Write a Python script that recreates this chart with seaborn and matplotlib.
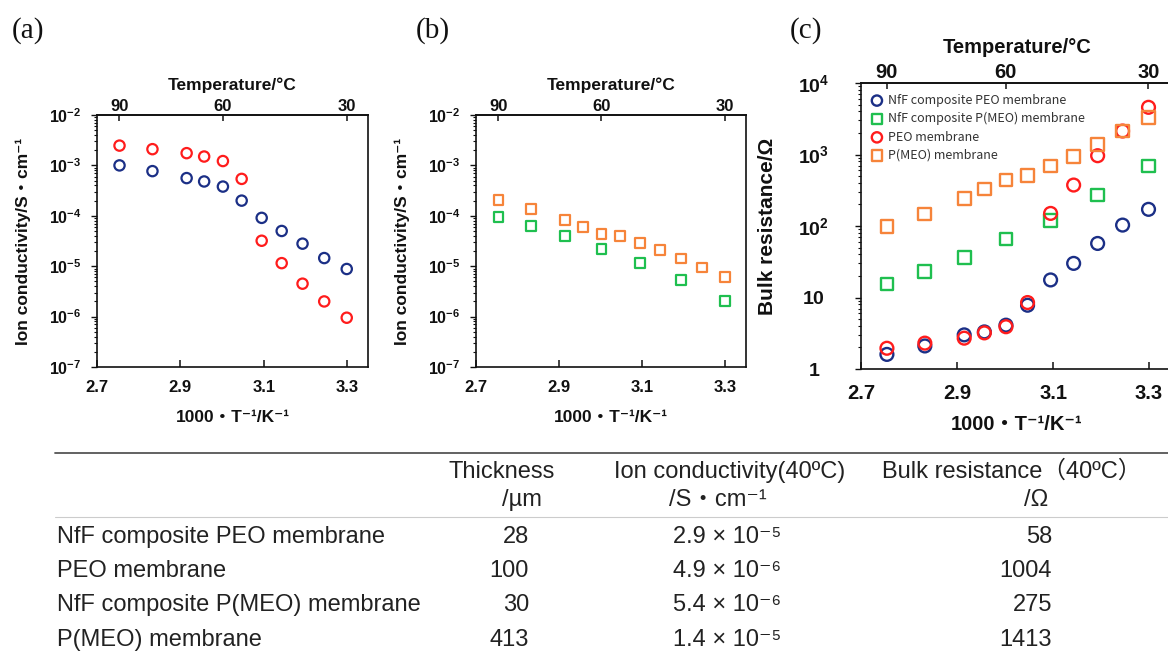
import numpy as np
import matplotlib
matplotlib.use("Agg")
import matplotlib.pyplot as plt
import seaborn as sns
from matplotlib.ticker import LogLocator, NullLocator, NullFormatter
from matplotlib.font_manager import FontProperties

# ---------------- data ----------------
inv_T_all = [2.754, 2.833, 2.915, 2.957, 3.002, 3.047, 3.095, 3.143, 3.193, 3.245, 3.299]
inv_T_sub = [2.754, 2.833, 2.915, 3.002, 3.095, 3.193, 3.299]

# (a) ion conductivity / S cm^-1
sigma_nff_peo = [1.0e-3, 7.7e-4, 5.6e-4, 4.8e-4, 3.8e-4, 2.0e-4, 9.1e-5, 5.0e-5, 2.8e-5, 1.45e-5, 8.8e-6]
sigma_peo = [2.47e-3, 2.1e-3, 1.75e-3, 1.5e-3, 1.22e-3, 5.4e-4, 3.2e-5, 1.15e-5, 4.5e-6, 2.0e-6, 9.5e-7]
# (b)
sigma_nff_pmeo = [9.3e-5, 6.3e-5, 4.0e-5, 2.2e-5, 1.17e-5, 5.3e-6, 2.06e-6]
sigma_pmeo = [2.09e-4, 1.36e-4, 8.3e-5, 6.0e-5, 4.4e-5, 4.0e-5, 2.9e-5, 2.1e-5, 1.42e-5, 9.4e-6, 6.0e-6]
# (c) bulk resistance / Ohm
R_nff_peo = [1.6, 2.1, 3.0, 3.3, 4.1, 7.8, 17.6, 30, 57, 103, 171]
R_nff_pmeo = [15.4, 23, 36, 66, 119, 271, 690]
R_peo = [1.95, 2.3, 2.7, 3.2, 3.9, 8.5, 150, 374, 962, 2130, 4570]
R_pmeo = [98, 147, 244, 329, 440, 505, 690, 933, 1387, 2130, 3310]

series_names = ["NfF composite PEO membrane", "NfF composite P(MEO) membrane",
                "PEO membrane", "P(MEO) membrane"]

x_ticks = [2.7, 2.9, 3.1, 3.3]
x_tick_labels = ["2.7", "2.9", "3.1", "3.3"]
temp_ticks = [90, 60, 30]
temp_tick_labels = ["90", "60", "30"]
sigma_ticks = [1e-7, 1e-6, 1e-5, 1e-4, 1e-3, 1e-2]
sigma_tick_labels = [r"$\mathbf{10^{-7}}$", r"$\mathbf{10^{-6}}$", r"$\mathbf{10^{-5}}$",
                     r"$\mathbf{10^{-4}}$", r"$\mathbf{10^{-3}}$", r"$\mathbf{10^{-2}}$"]
R_ticks = [1, 10, 100, 1000, 10000]
R_tick_labels = [r"$\mathbf{1}$", r"$\mathbf{10}$", r"$\mathbf{10^{2}}$",
                 r"$\mathbf{10^{3}}$", r"$\mathbf{10^{4}}$"]

table_rows = ["NfF composite PEO membrane", "PEO membrane",
              "NfF composite P(MEO) membrane", "P(MEO) membrane"]
table_thickness = ["28", "100", "30", "413"]
table_conductivity = ["2.9 × 10⁻⁵", "4.9 × 10⁻⁶", "5.4 × 10⁻⁶", "1.4 × 10⁻⁵"]
table_resistance = ["58", "1004", "275", "1413"]

# ---------------- style ----------------
sns.set_theme(style="white")
plt.rcParams["font.family"] = ["Liberation Sans", "DejaVu Sans", "Noto Sans CJK JP"]
plt.rcParams["mathtext.fontset"] = "custom"
plt.rcParams["mathtext.rm"] = "Liberation Sans"
plt.rcParams["mathtext.bf"] = "Liberation Sans:bold"
plt.rcParams["mathtext.it"] = "Liberation Sans:italic"
plt.rcParams["axes.edgecolor"] = "#111111"

C_NAVY = "#1b2f86"
C_RED = "#ff1c1c"
C_GREEN = "#1fbf4f"
C_ORANGE = "#f6843a"

W, H = 1168, 651
fig = plt.figure(figsize=(W / 100, H / 100), dpi=100)
fig.patch.set_facecolor("white")


def rect(l, t, r, b):
    return [l / W, 1 - b / H, (r - l) / W, (b - t) / H]


ax_a = fig.add_axes(rect(97, 115, 368, 367))
ax_b = fig.add_axes(rect(476, 115, 746, 367))
ax_c = fig.add_axes(rect(861, 83, 1173, 369))


def inv2temp(x):
    with np.errstate(divide="ignore", invalid="ignore"):
        return 1000.0 / np.asarray(x, dtype=float) - 273.15


def temp2inv(t):
    with np.errstate(divide="ignore", invalid="ignore"):
        return 1000.0 / (np.asarray(t, dtype=float) + 273.15)


def hollow(ax, x, y, color, marker, s, lw, label=None):
    sns.scatterplot(x=x, y=y, ax=ax, marker=marker, s=s, color=color,
                    facecolor="none", edgecolor=color, linewidth=lw,
                    label=label, legend=False, zorder=3)


def style(ax, yticks, ylabels, ylabel, tick_fs, ytick_fs, lab_fs, ylab_fs,
          xpad, ypad, top_lab_y, xlab_y, ylab_x):
    ax.set_xlim(2.7, 3.35)
    ax.set_yscale("log")
    ax.set_ylim(yticks[0], yticks[-1])
    for sp in ax.spines.values():
        sp.set_linewidth(1.2)
        sp.set_color("#111111")
    ax.set_xticks(x_ticks, labels=x_tick_labels, fontsize=tick_fs, fontweight="bold")
    ax.set_yticks(yticks, labels=ylabels, fontsize=ytick_fs)
    ax.yaxis.set_minor_locator(LogLocator(base=10, subs=np.arange(2, 10), numticks=30))
    ax.yaxis.set_minor_formatter(NullFormatter())
    ax.xaxis.set_minor_locator(NullLocator())
    ax.tick_params(axis="x", which="major", direction="in", length=5, width=1.1,
                   pad=xpad, bottom=True, top=False, colors="#111111")
    ax.tick_params(axis="y", which="major", direction="out", length=4, width=1.0,
                   pad=ypad, left=True, right=False, colors="#111111")
    ax.tick_params(axis="y", which="minor", direction="out", length=2.5, width=0.8,
                   left=True, right=False, colors="#111111")
    ax.set_xlabel("1000・T⁻¹/K⁻¹", fontsize=lab_fs, fontweight="bold", color="#111111")
    ax.xaxis.set_label_coords(0.5, xlab_y)
    ax.set_ylabel(ylabel, fontsize=ylab_fs, fontweight="bold", color="#111111")
    ax.yaxis.set_label_coords(ylab_x, 0.5)
    ax.grid(False)

    sec = ax.secondary_xaxis("top", functions=(inv2temp, temp2inv))
    sec.set_xticks(temp_ticks, labels=temp_tick_labels, fontsize=tick_fs, fontweight="bold")
    sec.xaxis.set_minor_locator(NullLocator())
    sec.tick_params(axis="x", direction="in", length=4, width=1.1, pad=1, colors="#111111")
    sec.spines["top"].set_linewidth(1.2)
    sec.set_xlabel("Temperature/°C", fontsize=lab_fs, fontweight="bold", color="#111111")
    sec.xaxis.set_label_coords(0.5, top_lab_y, transform=ax.transAxes)
    return sec


# ---------------- panel (a) ----------------
hollow(ax_a, inv_T_all, sigma_nff_peo, C_NAVY, "o", 55, 1.6)
hollow(ax_a, inv_T_all, sigma_peo, C_RED, "o", 55, 1.6)
style(ax_a, sigma_ticks, sigma_tick_labels, "Ion conductivity/S・cm⁻¹",
      12, 11.5, 12.5, 12.5, 9, 7, 1.101, -0.17, -0.245)

# ---------------- panel (b) ----------------
hollow(ax_b, inv_T_sub, sigma_nff_pmeo, C_GREEN, "s", 50, 1.6)
hollow(ax_b, inv_T_all, sigma_pmeo, C_ORANGE, "s", 50, 1.6)
style(ax_b, sigma_ticks, sigma_tick_labels, "Ion conductivity/S・cm⁻¹",
      12, 11.5, 12.5, 12.5, 9, 7, 1.101, -0.17, -0.245)

# ---------------- panel (c) ----------------
hollow(ax_c, inv_T_all, R_nff_peo, C_NAVY, "o", 85, 1.7, series_names[0])
hollow(ax_c, inv_T_sub, R_nff_pmeo, C_GREEN, "s", 85, 1.7, series_names[1])
hollow(ax_c, inv_T_all, R_peo, C_RED, "o", 85, 1.7, series_names[2])
hollow(ax_c, inv_T_all, R_pmeo, C_ORANGE, "s", 85, 1.7, series_names[3])
style(ax_c, R_ticks, R_tick_labels, "Bulk resistance/Ω",
      14.5, 14, 14.5, 15, 11, 30, 1.105, -0.16, -0.27)
for lbl in ax_c.get_yticklabels():
    lbl.set_horizontalalignment("center")

handles, labels = ax_c.get_legend_handles_labels()
ax_c.legend(handles, labels, loc="upper left", bbox_to_anchor=(0.035, 0.962),
            frameon=False, borderpad=0, borderaxespad=0, handlelength=0.8,
            handletextpad=0.45, labelspacing=0.42, markerscale=0.8,
            prop=FontProperties(family="Noto Sans CJK JP", size=9), labelcolor="#333333")

# ---------------- panel letters ----------------
for px, lab in [(28, "(a)"), (433, "(b)"), (806, "(c)")]:
    fig.text(px / W, 1 - 31 / H, lab, family="Liberation Serif", fontsize=21,
             ha="center", va="center", color="#111111")

# ---------------- table ----------------
tab = fig.add_axes([0, 0, 1, 1], zorder=-1)
tab.set_xlim(0, W)
tab.set_ylim(H, 0)
tab.axis("off")
tab.axhline(453, xmin=55 / W, xmax=1.0, color="#555555", lw=1.3)
tab.axhline(517, xmin=55 / W, xmax=1.0, color="#cccccc", lw=0.8)

tfs = 17
tcol = "#222222"
tab.text(502, 472, "Thickness", fontsize=tfs, ha="center", va="center", color=tcol)
tab.text(522, 500, "/µm", fontsize=tfs, ha="center", va="center", color=tcol)
tab.text(730, 472, "Ion conductivity(40ºC)", fontsize=tfs, ha="center", va="center", color=tcol)
tab.text(718, 500, "/S・cm⁻¹", fontsize=tfs, ha="center", va="center", color=tcol)
tab.text(1012, 472, "Bulk resistance（40ºC）", fontsize=tfs, ha="center", va="center", color=tcol)
tab.text(1036, 500, "/Ω", fontsize=tfs, ha="center", va="center", color=tcol)

row_y = [537, 571, 605, 640]
for y, name, th, sig, res in zip(row_y, table_rows, table_thickness,
                                  table_conductivity, table_resistance):
    tab.text(57, y, name, fontsize=tfs, ha="left", va="center", color=tcol)
    tab.text(529, y, th, fontsize=tfs, ha="right", va="center", color=tcol)
    tab.text(727, y, sig, fontsize=tfs, ha="center", va="center", color=tcol)
    tab.text(1052, y, res, fontsize=tfs, ha="right", va="center", color=tcol)

fig.savefig("out.png", dpi=100)
